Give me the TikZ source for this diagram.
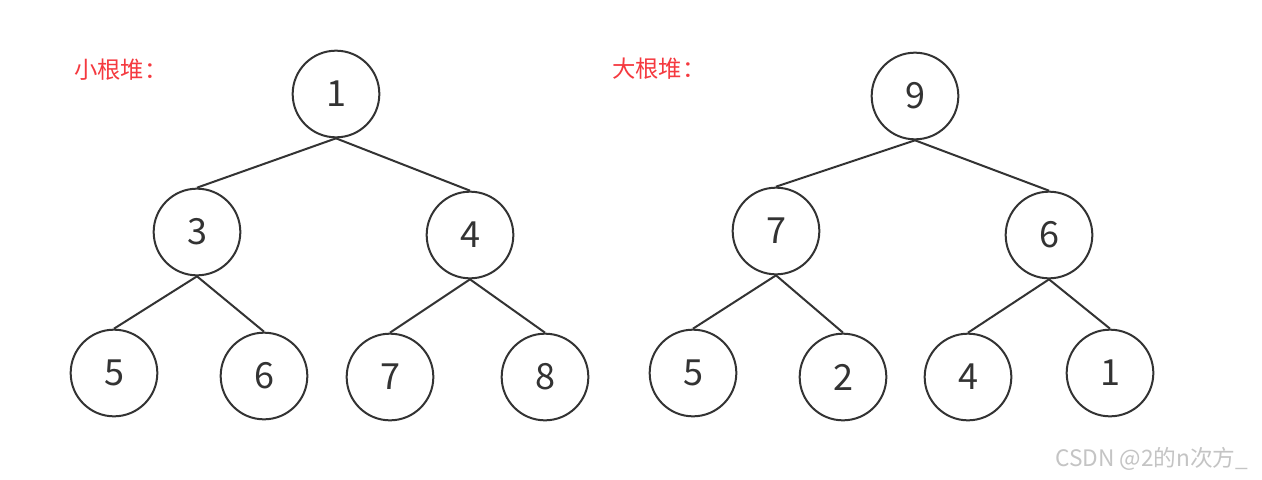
\documentclass[tikz,border=0pt]{standalone}
\usepackage{fontspec}
\newfontfamily\cjk{Noto Sans CJK SC}
\definecolor{linegray}{HTML}{333333}
\definecolor{labelred}{HTML}{F5393F}
\definecolor{markgray}{HTML}{C4C4C4}
\tikzset{
  heapnode/.style={circle, draw=linegray, line width=1.5pt, minimum size=65pt, inner sep=0pt, text=linegray, font=\cjk\fontsize{27pt}{27pt}\selectfont},
  heapedge/.style={draw=linegray, line width=1.5pt},
  heaplabel/.style={text=labelred, font=\cjk\fontsize{17.5pt}{17.5pt}\selectfont, anchor=west, inner sep=0pt},
  watermark/.style={text=markgray, font=\cjk\fontsize{17pt}{17pt}\selectfont, anchor=west, inner sep=0pt}
}
\begin{document}
\begin{tikzpicture}[x=0.75pt,y=-0.75pt]
\useasboundingbox[fill=white] (0,0) rectangle (1262,479);
% left tree
\node[heaplabel] (lblA) at (74,70) {小根堆：};
\node[heapnode] (a1) at (336,94) {1};
\node[heapnode] (a3) at (197,232) {3};
\node[heapnode] (a4) at (470,235) {4};
\node[heapnode] (a5) at (114,373) {5};
\node[heapnode] (a6) at (264,376) {6};
\node[heapnode] (a7) at (390,377) {7};
\node[heapnode] (a8) at (545,377) {8};
\draw[heapedge] (a1.south) -- (a3.north);
\draw[heapedge] (a1.south) -- (a4.north);
\draw[heapedge] (a3.south) -- (a5.north);
\draw[heapedge] (a3.south) -- (a6.north);
\draw[heapedge] (a4.south) -- (a7.north);
\draw[heapedge] (a4.south) -- (a8.north);
% right tree
\node[heaplabel] (lblB) at (612,69) {大根堆：};
\node[heapnode] (b9) at (915,96) {9};
\node[heapnode] (b7) at (776,231) {7};
\node[heapnode] (b6) at (1049,235) {6};
\node[heapnode] (b5) at (693,373) {5};
\node[heapnode] (b2) at (843,377) {2};
\node[heapnode] (b4) at (968,377) {4};
\node[heapnode] (b1) at (1110,373) {1};
\draw[heapedge] (b9.south) -- (b7.north);
\draw[heapedge] (b9.south) -- (b6.north);
\draw[heapedge] (b7.south) -- (b5.north);
\draw[heapedge] (b7.south) -- (b2.north);
\draw[heapedge] (b6.south) -- (b4.north);
\draw[heapedge] (b6.south) -- (b1.north);
% watermark
\node[watermark] (wm) at (1055,459) {CSDN @2的n次方\_};
\end{tikzpicture}
\end{document}
